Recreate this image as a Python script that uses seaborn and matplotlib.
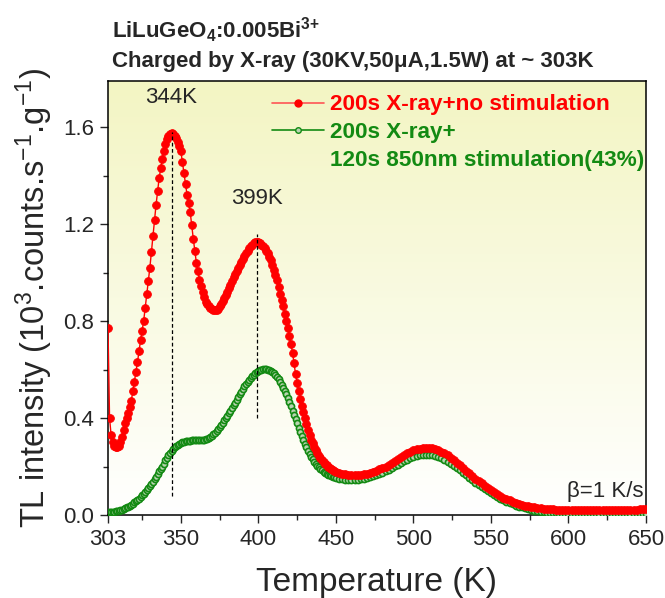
import numpy as np
import pandas as pd
import matplotlib
matplotlib.use("Agg")
import matplotlib.pyplot as plt
import seaborn as sns
from matplotlib.lines import Line2D
from matplotlib.ticker import MultipleLocator, FixedLocator

# ---------------- data ----------------
temp_fine = list(range(303, 451, 1))      # 1 K steps over the peaks
temp_coarse = list(range(452, 651, 2))    # 2 K steps at high temperature
temperature = temp_fine + temp_coarse

red_no_stim = [
    # 303-309
    0.77, 0.40, 0.33, 0.30, 0.285, 0.28, 0.28,
    # 310-319
    0.285, 0.30, 0.32, 0.35, 0.38, 0.40, 0.42, 0.445, 0.47, 0.51,
    # 320-329
    0.55, 0.59, 0.63, 0.675, 0.72, 0.76, 0.80, 0.855, 0.91, 0.965,
    # 330-339
    1.02, 1.085, 1.15, 1.215, 1.28, 1.335, 1.39, 1.43, 1.47, 1.50,
    # 340-349
    1.53, 1.55, 1.565, 1.572, 1.575, 1.572, 1.565, 1.555, 1.54, 1.52,
    # 350-359
    1.50, 1.455, 1.41, 1.365, 1.32, 1.285, 1.25, 1.195, 1.14, 1.09,
    # 360-369
    1.04, 1.005, 0.97, 0.945, 0.92, 0.90, 0.88, 0.87, 0.86, 0.855,
    # 370-379
    0.85, 0.847, 0.845, 0.847, 0.85, 0.86, 0.87, 0.882, 0.895, 0.907,
    # 380-389
    0.92, 0.935, 0.95, 0.965, 0.98, 0.993, 1.005, 1.018, 1.03, 1.043,
    # 390-399
    1.055, 1.068, 1.08, 1.09, 1.10, 1.108, 1.115, 1.12, 1.125, 1.127,
    # 400-409
    1.125, 1.12, 1.115, 1.108, 1.10, 1.09, 1.08, 1.065, 1.05, 1.03,
    # 410-419
    1.01, 0.99, 0.97, 0.94, 0.91, 0.885, 0.86, 0.83, 0.80, 0.77,
    # 420-429
    0.74, 0.705, 0.67, 0.625, 0.58, 0.545, 0.51, 0.48, 0.45, 0.425,
    # 430-439
    0.40, 0.375, 0.35, 0.33, 0.31, 0.295, 0.28, 0.267, 0.255, 0.245,
    # 440-450
    0.235, 0.227, 0.22, 0.212, 0.205, 0.20, 0.195, 0.19, 0.185, 0.181, 0.178,
    # 452-468
    0.173, 0.17, 0.168, 0.166, 0.165, 0.165, 0.165, 0.166, 0.168,
    # 470-488
    0.171, 0.175, 0.179, 0.183, 0.188, 0.194, 0.20, 0.207, 0.214, 0.222,
    # 490-508
    0.23, 0.238, 0.246, 0.254, 0.261, 0.267, 0.271, 0.274, 0.276, 0.277,
    # 510-528
    0.277, 0.276, 0.273, 0.267, 0.261, 0.254, 0.246, 0.237, 0.227, 0.216,
    # 530-548
    0.205, 0.194, 0.183, 0.172, 0.161, 0.15, 0.14, 0.13, 0.12, 0.111,
    # 550-568
    0.102, 0.094, 0.086, 0.079, 0.072, 0.066, 0.06, 0.055, 0.05, 0.046,
    # 570-588
    0.042, 0.039, 0.036, 0.033, 0.031, 0.029, 0.027, 0.026, 0.025, 0.024,
    # 590-608
    0.023, 0.022, 0.021, 0.021, 0.02, 0.02, 0.02, 0.02, 0.02, 0.02,
    # 610-628
    0.02, 0.02, 0.02, 0.02, 0.02, 0.02, 0.02, 0.02, 0.02, 0.02,
    # 630-648
    0.02, 0.02, 0.02, 0.02, 0.02, 0.02, 0.021, 0.022, 0.023, 0.024,
    # 650
    0.025,
]

green_stim = [
    # 303-309
    0.012, 0.012, 0.013, 0.013, 0.014, 0.015, 0.016,
    # 310-319
    0.018, 0.02, 0.022, 0.025, 0.028, 0.031, 0.035, 0.039, 0.043, 0.047,
    # 320-329
    0.052, 0.057, 0.062, 0.068, 0.074, 0.081, 0.088, 0.096, 0.104, 0.112,
    # 330-339
    0.12, 0.129, 0.138, 0.148, 0.158, 0.169, 0.18, 0.19, 0.20, 0.212,
    # 340-349
    0.225, 0.237, 0.248, 0.257, 0.265, 0.273, 0.28, 0.285, 0.29, 0.294,
    # 350-359
    0.297, 0.30, 0.302, 0.304, 0.305, 0.306, 0.307, 0.308, 0.308, 0.308,
    # 360-369
    0.308, 0.308, 0.308, 0.308, 0.309, 0.31, 0.312, 0.315, 0.318, 0.322,
    # 370-379
    0.327, 0.333, 0.34, 0.347, 0.355, 0.363, 0.372, 0.381, 0.39, 0.40,
    # 380-389
    0.41, 0.42, 0.43, 0.441, 0.452, 0.463, 0.475, 0.487, 0.498, 0.509,
    # 390-399
    0.52, 0.53, 0.54, 0.549, 0.557, 0.565, 0.572, 0.579, 0.585, 0.59,
    # 400-409
    0.595, 0.598, 0.60, 0.601, 0.602, 0.601, 0.60, 0.598, 0.595, 0.59,
    # 410-419
    0.585, 0.578, 0.57, 0.56, 0.55, 0.538, 0.525, 0.511, 0.497, 0.481,
    # 420-429
    0.465, 0.448, 0.43, 0.413, 0.395, 0.378, 0.36, 0.343, 0.325, 0.309,
    # 430-439
    0.293, 0.279, 0.265, 0.252, 0.24, 0.23, 0.22, 0.211, 0.203, 0.196,
    # 440-450
    0.19, 0.184, 0.179, 0.174, 0.17, 0.166, 0.163, 0.16, 0.157, 0.155, 0.153,
    # 452-468
    0.15, 0.148, 0.146, 0.145, 0.145, 0.145, 0.146, 0.147, 0.149,
    # 470-488
    0.152, 0.155, 0.159, 0.163, 0.168, 0.174, 0.18, 0.187, 0.194, 0.201,
    # 490-508
    0.208, 0.215, 0.222, 0.228, 0.234, 0.239, 0.243, 0.246, 0.248, 0.249,
    # 510-528
    0.249, 0.248, 0.245, 0.24, 0.234, 0.227, 0.22, 0.212, 0.203, 0.194,
    # 530-548
    0.184, 0.174, 0.164, 0.154, 0.144, 0.134, 0.125, 0.116, 0.107, 0.098,
    # 550-568
    0.09, 0.082, 0.075, 0.068, 0.061, 0.055, 0.049, 0.044, 0.039, 0.035,
    # 570-588
    0.031, 0.027, 0.024, 0.021, 0.018, 0.016, 0.014, 0.012, 0.01, 0.009,
    # 590-608
    0.008, 0.007, 0.006, 0.006, 0.005, 0.005, 0.005, 0.005, 0.005, 0.005,
    # 610-628
    0.005, 0.005, 0.005, 0.005, 0.005, 0.005, 0.005, 0.005, 0.005, 0.005,
    # 630-648
    0.005, 0.005, 0.005, 0.005, 0.005, 0.005, 0.005, 0.005, 0.005, 0.005,
    # 650
    0.005,
]

assert len(red_no_stim) == len(temperature), (len(red_no_stim), len(temperature))
assert len(green_stim) == len(temperature), (len(green_stim), len(temperature))

x_ticks = [303, 350, 400, 450, 500, 550, 600, 650]
x_ticklabels = ["303", "350", "400", "450", "500", "550", "600", "650"]
y_ticks = [0.0, 0.4, 0.8, 1.2, 1.6]
y_ticklabels = ["0.0", "0.4", "0.8", "1.2", "1.6"]
peak_temps = [344, 399]
peak_labels = ["344K", "399K"]

label_red = "200s X-ray+no stimulation"
label_green_1 = "200s X-ray+"
label_green_2 = "120s 850nm stimulation(43%)"

df = pd.DataFrame({"T": temperature, "red": red_no_stim, "green": green_stim})

# ---------------- style ----------------
sns.set_style("ticks")
plt.rcParams["font.family"] = ["Liberation Sans", "DejaVu Sans"]
plt.rcParams["mathtext.fontset"] = "custom"
plt.rcParams["mathtext.rm"] = "Liberation Sans"
plt.rcParams["mathtext.it"] = "Liberation Sans:italic"
plt.rcParams["mathtext.bf"] = "Liberation Sans:bold"

fig = plt.figure(figsize=(6.65, 5.98), dpi=100)
ax = fig.add_axes([108 / 665, 1 - 515 / 598, 538 / 665, 434 / 598])

xmin, xmax = 303, 650
ymin, ymax = 0.0, 1.79

# gradient background
grad = np.linspace(0, 1, 256).reshape(-1, 1)
top = np.array([0.953, 0.961, 0.765])
bot = np.array([1.0, 1.0, 1.0])
img = top[None, None, :] * (1 - grad[:, :, None]) + bot[None, None, :] * grad[:, :, None]
ax.imshow(img, extent=[xmin, xmax, ymin, ymax], origin="upper", aspect="auto", zorder=0)

red = "#ff0000"
green = "#138a13"
green_fill = "#b8d4b0"

sns.lineplot(data=df, x="T", y="red", ax=ax, color=red, lw=1.0, marker="o",
             markersize=5.6, markeredgecolor=red, markerfacecolor=red,
             markeredgewidth=0.6, zorder=4, legend=False)
sns.lineplot(data=df, x="T", y="green", ax=ax, color=green, lw=1.0, marker="o",
             markersize=4.4, markeredgecolor=green, markerfacecolor=green_fill,
             markeredgewidth=1.2, zorder=3, legend=False)

# peak markers
ax.plot([peak_temps[0]] * 2, [0.08, 1.58], ls=(0, (3, 2)), color="black", lw=0.9, zorder=5)
ax.plot([peak_temps[1]] * 2, [0.40, 1.16], ls=(0, (3, 2)), color="black", lw=0.9, zorder=5)
ax.text(peak_temps[0], 1.722, peak_labels[0], ha="center", va="center", fontsize=16)
ax.text(peak_temps[1], 1.305, peak_labels[1], ha="center", va="center", fontsize=16)
ax.text(0.995, 0.055, "β=1 K/s", transform=ax.transAxes, ha="right",
        va="center", fontsize=16)

ax.set_xlim(xmin, xmax)
ax.set_ylim(ymin, ymax)
ax.xaxis.set_major_locator(FixedLocator(x_ticks))
ax.set_xticklabels(x_ticklabels)
ax.xaxis.set_minor_locator(FixedLocator([325, 375, 425, 475, 525, 575, 625]))
ax.yaxis.set_major_locator(FixedLocator(y_ticks))
ax.set_yticklabels(y_ticklabels)
ax.yaxis.set_minor_locator(MultipleLocator(0.2))
ax.tick_params(axis="both", which="major", direction="out", length=6, width=1.0,
               labelsize=16, top=False, right=False, pad=4)
ax.tick_params(axis="both", which="minor", direction="out", length=3.5, width=1.0,
               top=False, right=False)
for s in ax.spines.values():
    s.set_visible(True)
    s.set_linewidth(1.1)
    s.set_color("black")

ax.set_xlabel("Temperature (K)", fontsize=24, labelpad=12)
ax.set_ylabel(r"TL intensity (10$^3$.counts.s$^{-1}$.g$^{-1}$)", fontsize=23.5, labelpad=6)

# legend
h_red = Line2D([], [], color="#ff5555", lw=1.2, marker="o", markersize=5,
               markerfacecolor=red, markeredgecolor=red)
h_green = Line2D([], [], color=green, lw=1.2, marker="o", markersize=4,
                 markerfacecolor=green_fill, markeredgecolor=green)
h_blank = Line2D([], [], color="none", lw=0)
leg = ax.legend([h_red, h_green, h_blank], [label_red, label_green_1, label_green_2],
                loc="upper left",
                bbox_to_anchor=((272 - 108) / 538, 0.969), frameon=False,
                borderpad=0, borderaxespad=0,
                handlelength=2.3, handletextpad=0.3, labelspacing=0.3,
                prop={"weight": "bold", "size": 16.2})
for txt, c in zip(leg.get_texts(), [red, green, green]):
    txt.set_color(c)

# titles
fig.text(112 / 665, 1 - 30 / 598, r"LiLuGeO$_\mathbf{4}$:0.005Bi$^{\mathbf{3{+}}}$",
         fontsize=16, fontweight="bold", ha="left", va="center")
fig.text(112 / 665, 1 - 61 / 598, "Charged by X-ray (30KV,50μA,1.5W) at ~ 303K",
         fontsize=16, fontweight="bold", ha="left", va="center")

fig.savefig("out.png", dpi=100)
